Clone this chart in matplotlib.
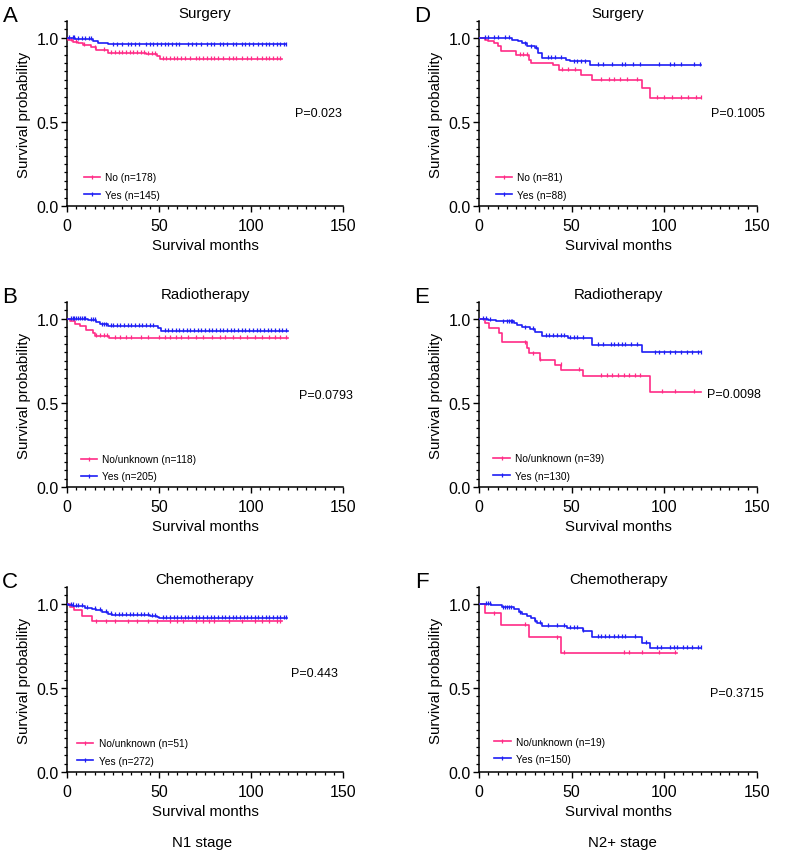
import numpy as np
import matplotlib
matplotlib.use("Agg")
import matplotlib.pyplot as plt
from matplotlib.lines import Line2D
from matplotlib.ticker import MultipleLocator

plt.rcParams["font.family"] = ["Liberation Sans", "DejaVu Sans"]

PINK = "#FF2B86"
BLUE = "#1E1EF5"

# ---- data (months, survival probability) ----

# A: N1, surgery
a_no_t = [0, 0.7, 3.4, 6, 8.7, 13, 16, 22.5, 43, 49, 50.6, 116.7]
a_no_s = [1.0, 0.988, 0.978, 0.968, 0.958, 0.944, 0.93, 0.912, 0.905, 0.89, 0.875, 0.875]
a_no_c = [2, 5, 9, 15, 20, 24, 26, 28, 30, 32, 34, 36, 38, 40, 42, 44, 46, 48, 52, 54, 56, 58, 60,
          62, 64, 67, 70, 72, 74, 76, 78, 80, 82, 85, 88, 90, 92, 95, 98, 100, 103, 106, 108,
          110, 112, 114, 116]
a_yes_t = [0, 4.3, 14.3, 17, 22.5, 119]
a_yes_s = [1.0, 0.994, 0.98, 0.97, 0.962, 0.962]
a_yes_c = [1, 3, 4, 6, 8, 10, 12, 13, 25, 27, 30, 33, 35, 37, 39, 43, 45, 47, 49, 51, 53, 55, 57,
           59, 61, 66, 68, 70, 73, 76, 78, 80, 83, 85, 87, 90, 92, 95, 97, 99, 101, 104, 106,
           108, 110, 112, 114, 116, 118, 119]

# B: N1, radiotherapy
b_no_t = [0, 1.5, 4.2, 7, 10.5, 14, 15, 22.8, 120]
b_no_s = [1.0, 0.986, 0.972, 0.957, 0.933, 0.913, 0.90, 0.887, 0.887]
b_no_c = [16, 18, 20, 22, 26, 29, 32, 35, 40, 44, 50, 53, 56, 59, 62, 66, 70, 74, 79, 83, 86, 90,
          94, 98, 102, 106, 110, 113, 116, 119]
b_yes_t = [0, 11.4, 16, 17.8, 22.3, 49.5, 51.3, 120]
b_yes_s = [1.0, 0.992, 0.98, 0.967, 0.958, 0.947, 0.929, 0.929]
b_yes_c = [2, 3, 4, 5, 6, 7, 8, 9, 10, 13, 14, 15, 19, 20, 21, 24, 25, 27, 29, 31, 33, 35, 37, 39,
           41, 43, 45, 47, 53, 55, 57, 59, 61, 63, 65, 67, 69, 71, 73, 75, 77, 79, 81, 83, 85,
           87, 89, 91, 93, 95, 97, 99, 101, 103, 105, 107, 109, 111, 113, 115, 117, 119]

# C: N1, chemotherapy
c_no_t = [0, 1.6, 3.8, 8, 13.4, 116.7]
c_no_s = [1.0, 0.984, 0.965, 0.93, 0.895, 0.895]
c_no_c = [16, 21, 26, 33, 38, 44, 49, 56, 60, 63, 70, 74, 77, 80, 88, 95, 102, 106, 110, 114, 116]
c_yes_t = [0, 0.7, 3.4, 9.8, 13.4, 16, 19, 22.5, 24.3, 45, 48.7, 50, 119.4]
c_yes_s = [1.0, 0.994, 0.988, 0.978, 0.97, 0.964, 0.954, 0.942, 0.935, 0.929, 0.923, 0.915, 0.915]
c_yes_c = [2, 3, 5, 6, 8, 11, 15, 18, 21, 24, 26, 28, 30, 32, 34, 36, 38, 40, 42, 44, 46, 48, 52,
           54, 56, 58, 60, 62, 64, 66, 68, 70, 72, 74, 76, 78, 80, 82, 84, 86, 88, 90, 92, 94,
           96, 98, 100, 102, 104, 106, 108, 110, 112, 114, 116, 118, 119]

# D: N2+, surgery
d_no_t = [0, 3, 5, 8, 10.5, 12, 20, 27, 28, 40, 43, 55, 61, 88, 92, 120]
d_no_s = [1.0, 0.99, 0.98, 0.967, 0.95, 0.92, 0.90, 0.87, 0.85, 0.84, 0.81, 0.78, 0.75, 0.70,
          0.643, 0.643]
d_no_c = [22, 24, 26, 45, 48, 52, 66, 70, 73, 76, 80, 85, 96, 100, 104, 109, 113, 117, 120]
d_yes_t = [0, 18, 21, 23, 26, 30, 32, 34, 47, 49, 60, 120]
d_yes_s = [1.0, 0.99, 0.98, 0.967, 0.95, 0.94, 0.91, 0.88, 0.87, 0.86, 0.84, 0.84]
d_yes_c = [3, 5, 8, 10, 14, 16, 25, 28, 31, 37, 39, 41, 44, 51, 53, 55, 57, 64, 67, 72, 77, 79,
           83, 87, 97, 103, 105, 109, 116, 119]

# E: N2+, radiotherapy
e_no_t = [0, 3, 5.4, 10.9, 12.3, 26, 27, 33, 41, 44.5, 56, 92, 120]
e_no_s = [1.0, 0.975, 0.945, 0.915, 0.86, 0.825, 0.795, 0.755, 0.725, 0.695, 0.66, 0.565, 0.565]
e_no_c = [25, 29, 33, 44, 54, 66, 69, 72, 75, 78, 81, 84, 87, 99, 106, 116]
e_yes_t = [0, 5, 9, 18.7, 20.5, 23, 27.7, 30, 34, 48, 61, 88, 120]
e_yes_s = [1.0, 0.995, 0.985, 0.975, 0.965, 0.95, 0.94, 0.92, 0.90, 0.885, 0.845, 0.80, 0.80]
e_yes_c = [2, 4, 6, 13, 15, 16, 17, 18, 25, 29, 36, 38, 40, 42, 44, 46, 49, 51, 53, 56, 64, 67,
           71, 73, 75, 77, 79, 82, 85, 95, 97, 100, 103, 106, 109, 112, 115, 118, 120]

# F: N2+, chemotherapy
f_no_t = [0, 3.3, 12, 27, 44, 107]
f_no_s = [1.0, 0.943, 0.875, 0.80, 0.71, 0.71]
f_no_c = [8, 25, 42, 46, 78, 81, 88, 97, 106]
f_yes_t = [0, 6.5, 12.3, 18.7, 21.4, 23, 26, 28, 30, 31.3, 34, 47.6, 56, 61, 88, 92, 120]
f_yes_s = [1.0, 0.994, 0.98, 0.97, 0.95, 0.94, 0.93, 0.917, 0.90, 0.885, 0.87, 0.857, 0.84,
           0.805, 0.77, 0.738, 0.738]
f_yes_c = [4, 5, 6, 13, 14, 15, 16, 17, 22, 30, 33, 37, 42, 46, 49, 51, 53, 56, 64, 66, 68, 70,
           73, 75, 77, 79, 84, 90, 96, 98, 103, 105, 107, 110, 112, 115, 118, 120]

letters = ["A", "B", "C", "D", "E", "F"]
titles = ["Surgery", "Radiotherapy", "Chemotherapy", "Surgery", "Radiotherapy", "Chemotherapy"]
pvalues = ["P=0.023", "P=0.0793", "P=0.443", "P=0.1005", "P=0.0098", "P=0.3715"]
no_labels = ["No (n=178)", "No/unknown (n=118)", "No/unknown (n=51)",
             "No (n=81)", "No/unknown (n=39)", "No/unknown (n=19)"]
yes_labels = ["Yes (n=145)", "Yes (n=205)", "Yes (n=272)",
              "Yes (n=88)", "Yes (n=130)", "Yes (n=150)"]
stage_labels = ["N1 stage", "N2+ stage"]

curves = [
    (a_no_t, a_no_s, a_no_c, a_yes_t, a_yes_s, a_yes_c),
    (b_no_t, b_no_s, b_no_c, b_yes_t, b_yes_s, b_yes_c),
    (c_no_t, c_no_s, c_no_c, c_yes_t, c_yes_s, c_yes_c),
    (d_no_t, d_no_s, d_no_c, d_yes_t, d_yes_s, d_yes_c),
    (e_no_t, e_no_s, e_no_c, e_yes_t, e_yes_s, e_yes_c),
    (f_no_t, f_no_s, f_no_c, f_yes_t, f_yes_s, f_yes_c),
]

# layout (figure fractions)
W, H = 786, 854
col_left = [67 / W, 479 / W]
col_width = [276 / W, 278 / W]
row_bottom = [1 - 207 / H, 1 - 488 / H, 1 - 773 / H]
ax_height = 185 / H
pval_pos = [(124, 0.55), (126, 0.546), (122, 0.586), (125, 0.55), (123, 0.55), (124.7, 0.47)]
legend_anchor = [(0.06, 0.035), (0.05, 0.03), (0.037, 0.035),
                 (0.06, 0.035), (0.052, 0.035), (0.055, 0.045)]


def step_value(t, s, x):
    idx = np.searchsorted(np.asarray(t), np.asarray(x), side="right") - 1
    idx = np.clip(idx, 0, len(s) - 1)
    return np.asarray(s)[idx]


fig = plt.figure(figsize=(W / 100, H / 100), dpi=100)

for i in range(6):
    col, row = divmod(i, 3)
    ax = fig.add_axes([col_left[col], row_bottom[row], col_width[col], ax_height])
    no_t, no_s, no_c, yes_t, yes_s, yes_c = curves[i]

    for t, s, c, color in [(no_t, no_s, no_c, PINK), (yes_t, yes_s, yes_c, BLUE)]:
        ax.step(t, s, where="post", color=color, lw=1.2, zorder=3)
        c = [x for x in c if x <= t[-1]]
        ax.plot(c, step_value(t, s, c) + 0.004, ls="none", marker="|", ms=3.5,
                mew=0.9, color=color, zorder=3)

    ax.set_xlim(0, 150)
    ax.set_ylim(0, 1.1)
    ax.set_xticks([0, 50, 100, 150])
    ax.set_yticks([0, 0.5, 1.0])
    ax.set_yticklabels(["0.0", "0.5", "1.0"])
    ax.xaxis.set_minor_locator(MultipleLocator(5))
    ax.yaxis.set_minor_locator(MultipleLocator(0.05))
    for side in ["top", "right"]:
        ax.spines[side].set_visible(False)
    for side in ["left", "bottom"]:
        ax.spines[side].set_linewidth(1.1)
    ax.tick_params(which="major", direction="out", length=4, width=1.0, labelsize=11.5)
    ax.tick_params(axis="x", which="major", pad=5)
    ax.tick_params(axis="y", which="major", pad=2)
    ax.tick_params(which="minor", direction="out", length=2.5, width=0.9)
    ax.set_xlabel("Survival months", fontsize=10.8, labelpad=3)
    ax.set_ylabel("Survival probability", fontsize=10.8, labelpad=4)
    ax.set_title(titles[i], fontsize=10.8, pad=3)

    ax.text(pval_pos[i][0], pval_pos[i][1], pvalues[i], fontsize=9, va="center", ha="left")

    handles = [
        Line2D([], [], color=PINK, lw=1.2, marker="|", ms=3, mew=0.9),
        Line2D([], [], color=BLUE, lw=1.2, marker="|", ms=3, mew=0.9),
    ]
    ax.legend(handles, [no_labels[i], yes_labels[i]], loc="lower left",
              bbox_to_anchor=legend_anchor[i], frameon=False, fontsize=7.3,
              handlelength=1.6, handletextpad=0.5, labelspacing=0.7,
              borderpad=0, borderaxespad=0, numpoints=1)

    bbox = ax.get_position()
    fig.text(bbox.x0 - 57 / W, bbox.y1 + 5 / H, letters[i], fontsize=16, va="center", ha="center")

fig.text(202 / W, 1 - 843 / H, stage_labels[0], fontsize=10.8, ha="center", va="center")
fig.text(622 / W, 1 - 843 / H, stage_labels[1], fontsize=10.8, ha="center", va="center")

fig.savefig("out.png", dpi=100)
